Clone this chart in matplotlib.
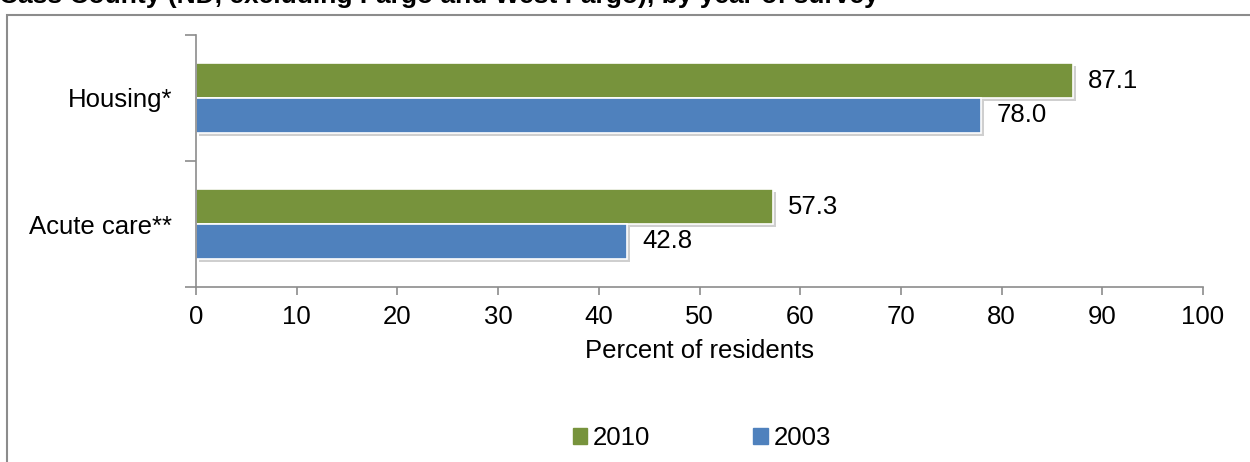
import matplotlib
matplotlib.use("Agg")
import matplotlib.pyplot as plt
import matplotlib.patheffects as pe
from matplotlib.patches import Rectangle
import numpy as np

plt.rcParams['font.family'] = ['Liberation Sans', 'DejaVu Sans']

categories = ["Housing*", "Acute care**"]
series_names = ["2010", "2003"]
values_2010 = [87.1, 57.3]
values_2003 = [78.0, 42.8]
colors = ["#77933C", "#4F81BD"]
xticks = [0, 10, 20, 30, 40, 50, 60, 70, 80, 90, 100]
title = "Cass County (ND, excluding Fargo and West Fargo), by year of survey"

W, H = 1250, 462
FS = 18.5
fig = plt.figure(figsize=(W / 100, H / 100), dpi=100)

# outer chart border
fig.patches.append(Rectangle((7 / W, -0.01), (W - 7) / W + 0.01, (H - 15) / H + 0.01,
                             transform=fig.transFigure, fill=False,
                             edgecolor="#8c8c8c", linewidth=1.5))
fig.text(-0.001, 1 - 3 / H, title, fontsize=19, fontweight="bold",
         va="baseline", ha="left")

left, right = 196 / W, 1203 / W
top, bottom = 35 / H, 287 / H
ax = fig.add_axes([left, 1 - bottom, right - left, bottom - top])

y = np.arange(len(categories))  # 0 = Housing at top
bh = 35 / 126
shadow = [pe.SimplePatchShadow(offset=(2, -2), shadow_rgbFace="#b0b0b0", alpha=0.6), pe.Normal()]
b1 = ax.barh(y - bh / 2, values_2010, height=bh, color=colors[0], edgecolor="white",
             linewidth=1.2, label=series_names[0], path_effects=shadow)
b2 = ax.barh(y + bh / 2, values_2003, height=bh, color=colors[1], edgecolor="white",
             linewidth=1.2, label=series_names[1], path_effects=shadow)
for bars, vals in ((b1, values_2010), (b2, values_2003)):
    for rect, v in zip(bars, vals):
        ax.text(v + 1.5, rect.get_y() + rect.get_height() / 2, f"{v:.1f}",
                va="center", ha="left", fontsize=FS)

ax.set_xlim(0, 100)
ax.set_ylim(1.5, -0.5)
ax.set_xticks(xticks)
ax.set_xticklabels([str(t) for t in xticks], fontsize=FS)
ax.set_yticks(y)
ax.set_yticklabels(categories, fontsize=FS)
ax.tick_params(axis="y", length=0, pad=17)
ax.tick_params(axis="x", length=6, color="#8c8c8c", width=1.2, pad=7)
# category boundary ticks on y axis
ax.set_yticks([-0.5, 0.5, 1.5], minor=True)
ax.tick_params(axis="y", which="minor", length=8, color="#8c8c8c", width=1.2)
for s in ("top", "right"):
    ax.spines[s].set_visible(False)
for s in ("left", "bottom"):
    ax.spines[s].set_color("#8c8c8c")
    ax.spines[s].set_linewidth(1.2)
ax.set_xlabel("Percent of residents", fontsize=FS, labelpad=7)

handles = [Rectangle((0, 0), 1, 1, color=c) for c in colors]
fig.legend(handles, series_names, loc="center", bbox_to_anchor=(702 / W, 1 - 438 / H),
           ncol=2, frameon=False, fontsize=FS, handlelength=0.55, handleheight=0.55,
           handletextpad=0.25, columnspacing=4.0)

fig.savefig("out.png", dpi=100)
